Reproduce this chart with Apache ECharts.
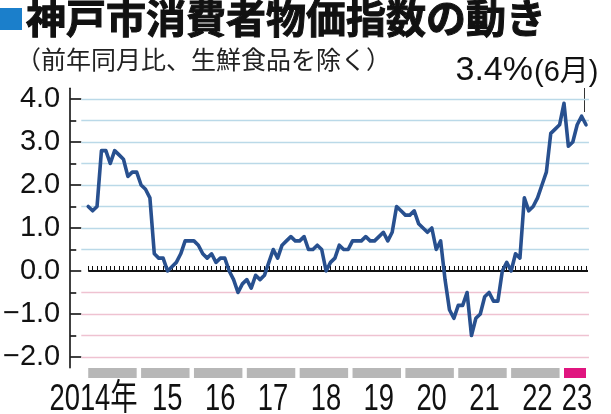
<!DOCTYPE html>
<html><head><meta charset="utf-8">
<script src="https://cdn.jsdelivr.net/npm/echarts@6/dist/echarts.min.js"></script>
<style>html,body{margin:0;padding:0;background:#fff}#c{width:611px;height:414px}</style>
</head><body><div id="c"></div>
<script>
// Monthly values, Jan 2014 .. Jun 2023 (前年同月比 %, 生鮮食品を除く)
const v2014 = [1.5, 1.4, 1.5, 2.8, 2.8, 2.5, 2.8, 2.7, 2.6, 2.2, 2.3, 2.3];
const v2015 = [2.0, 1.9, 1.7, 0.4, 0.3, 0.3, 0.0, 0.1, 0.2, 0.4, 0.7, 0.7];
const v2016 = [0.7, 0.6, 0.4, 0.3, 0.4, 0.2, 0.3, 0.3, 0.0, -0.2, -0.5, -0.3];
const v2017 = [-0.2, -0.4, -0.1, -0.2, -0.1, 0.2, 0.5, 0.3, 0.6, 0.7, 0.8, 0.7];
const v2018 = [0.7, 0.8, 0.5, 0.5, 0.6, 0.5, 0.0, 0.2, 0.3, 0.6, 0.5, 0.5];
const v2019 = [0.7, 0.7, 0.7, 0.8, 0.7, 0.7, 0.8, 0.9, 0.7, 0.9, 1.5, 1.4];
const v2020 = [1.3, 1.3, 1.4, 1.1, 1.0, 0.9, 1.0, 0.5, 0.7, -0.2, -0.9, -1.1];
const v2021 = [-0.8, -0.8, -0.5, -1.5, -1.1, -1.0, -0.6, -0.5, -0.7, -0.7, 0.0, 0.2];
const v2022 = [0.0, 0.4, 0.3, 1.7, 1.4, 1.5, 1.7, 2.0, 2.3, 3.2, 3.3, 3.4];
const v2023 = [3.9, 2.9, 3.0, 3.4, 3.6, 3.4];

const yearLabels = ['2014年', '15', '16', '17', '18', '19', '20', '21', '22', '23'];
const yearMonths = [12, 12, 12, 12, 12, 12, 12, 12, 12, 6];
const yTickValues = [-2, -1, 0, 1, 2, 3, 4];
const yMinorValues = [-1.5, -0.5, 0.5, 1.5, 2.5, 3.5];
const gridValues = [-2, -1.5, -1, -0.5, 0.5, 1, 1.5, 2, 2.5, 3, 3.5, 4];

const titleText = '神戸市消費者物価指数の動き';
const subtitleText = '（前年同月比、生鮮食品を除く）';
const noteMain = '3.4%';
const noteSub = '(6月)';

const values = [].concat(v2014, v2015, v2016, v2017, v2018, v2019, v2020, v2021, v2022, v2023);
const lineData = values.map((v, i) => [i, v]);
const monthIdx = values.map((v, i) => i);
const lastIdx = values.length - 1;
const yearStarts = [];
let acc = 0;
yearMonths.forEach(m => { yearStarts.push(acc); acc += m; });
const yearData = yearStarts.map((s, i) => [s, s + yearMonths[i] - 1]);

const X_MIN = -1.585, X_MAX = 113.68;
const fmt = v => (v < 0 ? '\u2212' + Math.abs(v).toFixed(1) : v.toFixed(1));
const SANS = 'Liberation Sans, Arial, Noto Sans CJK JP, sans-serif';

const chart = echarts.init(document.getElementById('c'), null, {renderer: 'canvas'});
const option = {
  animation: false,
  backgroundColor: '#fff',
  grid: {left: 80, right: 22, top: 88.25, bottom: 46.25, containLabel: false},
  xAxis: {
    type: 'value', min: X_MIN, max: X_MAX,
    axisLine: {show: false, onZero: true},
    axisTick: {show: true, inside: true, length: 5, customValues: monthIdx,
      lineStyle: {color: '#111', width: 1}},
    axisLabel: {show: false},
    splitLine: {show: false}
  },
  yAxis: [{
    type: 'value', min: -2.25, max: 4.25, position: 'left', offset: 11,
    axisLine: {show: true, onZero: false, lineStyle: {color: '#111', width: 1.6}},
    axisTick: {show: true, inside: true, length: 11, customValues: yTickValues,
      lineStyle: {color: '#111', width: 1.6}},
    axisLabel: {show: true, customValues: yTickValues, formatter: fmt, margin: 10,
      color: '#111', fontSize: 29, fontFamily: SANS},
    splitLine: {show: false}
  }, {
    type: 'value', min: -2.25, max: 4.25, position: 'left', offset: 11,
    axisLine: {show: false, onZero: false},
    axisTick: {show: true, inside: true, length: 6, customValues: yMinorValues,
      lineStyle: {color: '#111', width: 1.6}},
    axisLabel: {show: false},
    splitLine: {show: false}
  }],
  series: [{
    type: 'line', name: 'grid', data: [], z: 1, silent: true,
    markLine: {
      silent: true, symbol: 'none', animation: false,
      label: {show: false},
      data: gridValues.map(v => [
        {coord: [X_MIN + 0.01, v], lineStyle: {color: v > 0 ? '#bad9e8' : '#efc2d1', width: 1.3, type: 'solid'}},
        {coord: [X_MAX - 0.01, v]}
      ]).concat([[
        {coord: [0, 0], lineStyle: {color: '#111', width: 2, type: 'solid'}},
        {coord: [lastIdx + 0.45, 0]}
      ]])
    }
  }, {
    type: 'line', name: 'cpi', data: lineData, z: 5,
    showSymbol: false, symbol: 'none', smooth: false,
    lineStyle: {color: '#28508f', width: 3.6, join: 'round', cap: 'round'}
  }, {
    type: 'custom', name: 'years', data: yearData, z: 3, silent: true,
    renderItem: function (params, api) {
      const s = api.value(0), e = api.value(1), i = params.dataIndex;
      const x0 = api.coord([s, 0])[0];
      const x1 = api.coord([e, 0])[0];
      const last = i === yearData.length - 1;
      return {
        type: 'group',
        children: [{
          type: 'rect',
          shape: {x: x0, y: 368, width: x1 - x0, height: 10},
          style: {fill: last ? '#e0157f' : '#b7b7b7'}
        }, {
          type: 'text',
          x: i === 0 ? x1 + 1 : (x0 + x1) / 2 + 2,
          y: 400,
          scaleX: 0.76,
          style: {
            text: yearLabels[i],
            x: 0, y: 0,
            align: i === 0 ? 'right' : 'center',
            verticalAlign: 'middle',
            fill: '#111',
            fontSize: 36,
            fontFamily: SANS
          }
        }]
      };
    }
  }]
};
chart.setOption(option);

const lastPx = chart.convertToPixel({xAxisIndex: 0, yAxisIndex: 0}, [lastIdx, values[lastIdx]]);
chart.setOption({
  graphic: [
    {type: 'rect', left: 0, top: 8, shape: {width: 22, height: 22}, style: {fill: '#1b7fcb'}},
    {type: 'text', x: 26, y: 18, style: {text: titleText, fill: '#111', stroke: '#111', lineWidth: 1,
      fontSize: 40, fontWeight: 'bold',
      fontFamily: 'Noto Sans CJK JP, sans-serif', verticalAlign: 'middle', align: 'left'}},
    {type: 'text', x: 16, y: 59, style: {text: subtitleText, fill: '#222', fontSize: 25,
      fontFamily: 'Noto Sans CJK JP, sans-serif', verticalAlign: 'middle', align: 'left'}},
    {type: 'text', x: 533, y: 71, style: {text: noteMain, align: 'right', verticalAlign: 'middle',
      fontSize: 34, fill: '#111', fontFamily: SANS}},
    {type: 'text', x: 534, y: 73, style: {text: noteSub, align: 'left', verticalAlign: 'middle',
      fontSize: 29, fill: '#111', fontFamily: SANS}},
    {type: 'line', shape: {x1: lastPx[0] - 1.5, y1: 88, x2: lastPx[0] - 1.5, y2: 112},
      style: {stroke: '#333', lineWidth: 1}}
  ]
});
</script>
</body></html>
